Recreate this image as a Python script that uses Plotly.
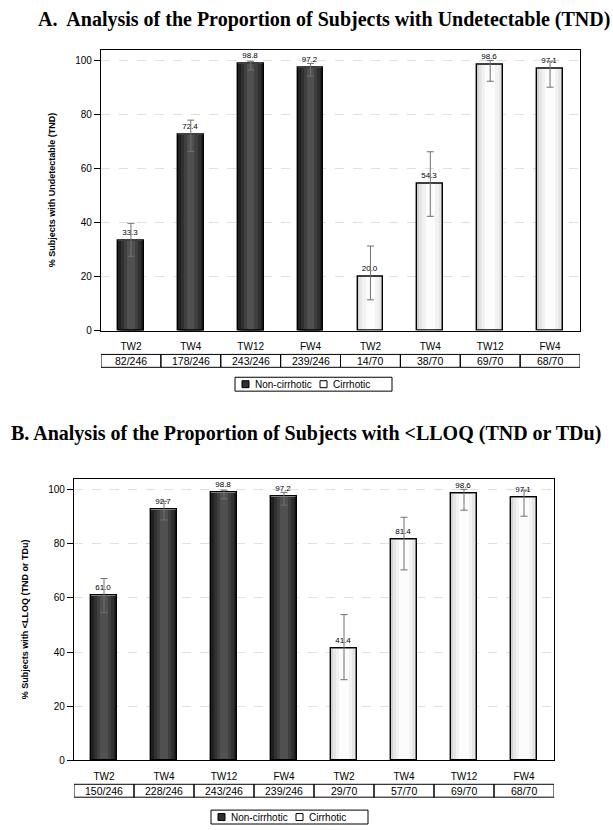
import plotly.graph_objects as go

# ---- data -------------------------------------------------------------
timepoints = ["TW2", "TW4", "TW12", "FW4"]
groups = ["Non-cirrhotic", "Cirrhotic"]

# Panel A: % subjects with undetectable HCV RNA (TND), with 95% CI
tnd_noncirr = [33.3, 72.4, 98.8, 97.2]
tnd_noncirr_lo = [27.5, 66.3, 96.5, 94.2]
tnd_noncirr_hi = [39.7, 77.9, 99.7, 98.9]
tnd_noncirr_n = ["82/246", "178/246", "243/246", "239/246"]

tnd_cirr = [20.0, 54.3, 98.6, 97.1]
tnd_cirr_lo = [11.4, 42.3, 92.3, 90.1]
tnd_cirr_hi = [31.3, 66.2, 100.0, 99.7]
tnd_cirr_n = ["14/70", "38/70", "69/70", "68/70"]

# Panel B: % subjects with <LLOQ (TND or TDu), with 95% CI
lloq_noncirr = [61.0, 92.7, 98.8, 97.2]
lloq_noncirr_lo = [54.6, 88.7, 96.5, 94.2]
lloq_noncirr_hi = [67.1, 95.6, 99.7, 98.9]
lloq_noncirr_n = ["150/246", "228/246", "243/246", "239/246"]

lloq_cirr = [41.4, 81.4, 98.6, 97.1]
lloq_cirr_lo = [29.8, 70.3, 92.3, 90.1]
lloq_cirr_hi = [53.8, 89.7, 100.0, 99.7]
lloq_cirr_n = ["29/70", "57/70", "69/70", "68/70"]

y_ticks = [0, 20, 40, 60, 80, 100]

# ---- layout helpers -----------------------------------------------------
W, H = 613, 830


def fx(p):
    return p / W


def fy(p):
    return 1 - p / H


SANS = "Liberation Sans, Arial, sans-serif"
SERIF = "Liberation Serif, Times New Roman, serif"

# shaded layers give each bar a rounded, cylinder-like look
dark_layers = [(0.43, "#202020"), (0.33, "#303030"), (0.23, "#404040"), (0.12, "#505050")]
light_layers = [(0.43, "#d2d2d2"), (0.37, "#e6e6e6"), (0.28, "#f2f2f2"), (0.16, "#fcfcfc")]
swatch_colors = ["#303030", "#ffffff"]

panels = [
    dict(
        key="",
        title="A.  Analysis of the Proportion of Subjects with Undetectable (TND)",
        title_xy=(324, 20),
        ytitle="% Subjects with Undetectable (TND)",
        xdom=(101, 580), ydom=(50, 333), table=(357, 370), legend_box=(235, 392, 380, 394),
        series=[
            (tnd_noncirr, tnd_noncirr_lo, tnd_noncirr_hi, tnd_noncirr_n, dark_layers),
            (tnd_cirr, tnd_cirr_lo, tnd_cirr_hi, tnd_cirr_n, light_layers),
        ],
    ),
    dict(
        key="2",
        title="B. Analysis of the Proportion of Subjects with <LLOQ (TND or TDu)",
        title_xy=(306, 437),
        ytitle="% Subjects with <LLOQ (TND or TDu)",
        xdom=(74, 554), ydom=(482, 766), table=(790, 803), legend_box=(211, 368, 816, 830),
        series=[
            (lloq_noncirr, lloq_noncirr_lo, lloq_noncirr_hi, lloq_noncirr_n, dark_layers),
            (lloq_cirr, lloq_cirr_lo, lloq_cirr_hi, lloq_cirr_n, light_layers),
        ],
    ),
]

fig = go.Figure()
shapes, annotations = [], []
layout = {}

for p in panels:
    xa, ya = "x" + p["key"], "y" + p["key"]
    n_slots = len(timepoints) * len(groups)

    for gi, (vals, lo, hi, ns, layers) in enumerate(p["series"]):
        xs = [gi * len(timepoints) + i for i in range(len(timepoints))]
        # shaded fill layers
        for w, c in layers:
            fig.add_trace(go.Bar(
                x=xs, y=vals, width=w, xaxis=xa, yaxis=ya,
                marker=dict(color=c, line=dict(width=0)),
                showlegend=False, hoverinfo="skip",
            ))
        # outline, confidence interval and value label
        fig.add_trace(go.Bar(
            x=xs, y=vals, width=layers[0][0], xaxis=xa, yaxis=ya,
            marker=dict(color="rgba(0,0,0,0)", line=dict(color="black", width=1.4)),
            error_y=dict(
                type="data", symmetric=False,
                array=[h - v for h, v in zip(hi, vals)],
                arrayminus=[v - l for v, l in zip(vals, lo)],
                color="#707070", thickness=1, width=3.5,
            ),
            text=[f"{v:.1f}" for v in vals], textposition="outside",
            textfont=dict(size=8, color="black", family=SANS),
            cliponaxis=False, showlegend=False, name=groups[gi],
        ))
        # count table cells
        for x, txt in zip(xs, ns):
            shapes.append(dict(
                type="rect", xref=xa, yref="paper",
                x0=x - 0.5, x1=x + 0.5, y0=fy(p["table"][1]), y1=fy(p["table"][0]),
                line=dict(color="black", width=1),
            ))
            annotations.append(dict(
                xref=xa, yref="paper", x=x, y=(fy(p["table"][0]) + fy(p["table"][1])) / 2,
                text=txt, showarrow=False, font=dict(size=10.5, family=SANS, color="black"),
                xanchor="center", yanchor="middle",
            ))

    # boxed group key below the table
    lx0, lx1, ly0, ly1 = p["legend_box"]
    shapes.append(dict(type="rect", xref="paper", yref="paper",
                       x0=fx(lx0), x1=fx(lx1), y0=fy(ly1), y1=fy(ly0),
                       line=dict(color="black", width=1), fillcolor="white"))
    ymid = (ly0 + ly1) / 2
    item_x = [lx0 + 7, lx0 + 85]
    for gi, name in enumerate(groups):
        sx = item_x[gi]
        shapes.append(dict(type="rect", xref="paper", yref="paper",
                           x0=fx(sx), x1=fx(sx + 7), y0=fy(ymid + 3.5), y1=fy(ymid - 3.5),
                           line=dict(color="black", width=1), fillcolor=swatch_colors[gi]))
        annotations.append(dict(xref="paper", yref="paper", x=fx(sx + 11), y=fy(ymid),
                                text=name, showarrow=False, xanchor="left", yanchor="middle",
                                font=dict(size=10, family=SANS, color="black")))

    annotations.append(dict(
        xref="paper", yref="paper", x=fx(p["title_xy"][0]), y=fy(p["title_xy"][1]),
        text="<b>" + p["title"].replace("<", "&lt;") + "</b>", showarrow=False,
        font=dict(size=20, family=SERIF, color="black"),
        xanchor="center", yanchor="middle",
    ))

    layout["xaxis" + p["key"]] = dict(
        domain=[fx(p["xdom"][0]), fx(p["xdom"][1])], anchor=ya,
        range=[-0.5, n_slots - 0.5],
        tickvals=list(range(n_slots)), ticktext=timepoints * len(groups),
        ticks="", ticklabelstandoff=6,
        tickfont=dict(size=10, family=SANS, color="black"),
        showline=True, linecolor="black", linewidth=1.2, mirror=True,
        showgrid=False, zeroline=False, fixedrange=True,
    )
    layout["yaxis" + p["key"]] = dict(
        domain=[fy(p["ydom"][1]), fy(p["ydom"][0])], anchor=xa,
        range=[0, 104], tickvals=y_ticks,
        ticks="outside", ticklen=6, tickcolor="black", tickwidth=1,
        tickfont=dict(size=10, family=SANS, color="black"),
        showline=True, linecolor="black", linewidth=1.2, mirror=True,
        showgrid=True, gridcolor="#e0e0e0", griddash="dash", gridwidth=1,
        zeroline=False, fixedrange=True,
        title=dict(text=p["ytitle"], standoff=18,
                   font=dict(size=9, family=SANS, color="black", weight="bold")),
    )

fig.update_layout(
    width=W, height=H, margin=dict(l=0, r=0, t=0, b=0),
    paper_bgcolor="white", plot_bgcolor="white",
    barmode="overlay", bargap=0, showlegend=False,
    shapes=shapes, annotations=annotations,
    **layout,
)

fig.write_html("out.html")
